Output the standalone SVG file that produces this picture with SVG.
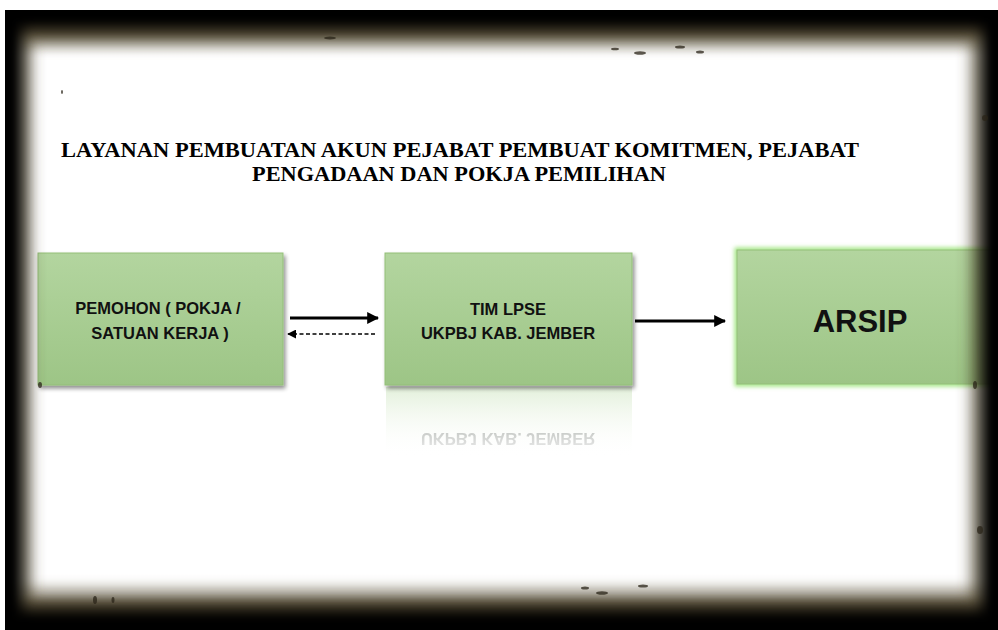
<svg xmlns="http://www.w3.org/2000/svg" width="998" height="630" viewBox="0 0 998 630">
<defs>
<style>
.title{font-family:"Liberation Serif","Times New Roman",serif;font-weight:bold;font-size:21px;fill:#000;text-anchor:middle}
.lbl{font-family:"Liberation Sans",Arial,sans-serif;font-weight:bold;font-size:16.5px;fill:#111;text-anchor:middle}
.big{font-family:"Liberation Sans",Arial,sans-serif;font-weight:bold;font-size:31px;fill:#111;text-anchor:middle}
.box{fill:url(#gfill);stroke:#93bf78;stroke-width:1}
.conn{stroke:#000;fill:none}
</style>
<linearGradient id="gfill" x1="0" y1="0" x2="0" y2="1">
<stop offset="0" stop-color="#b3d59f"/>
<stop offset="1" stop-color="#9dc586"/>
</linearGradient>
<linearGradient id="refl" x1="0" y1="0" x2="0" y2="1">
<stop offset="0" stop-color="#dfeed6" stop-opacity="0.9"/>
<stop offset="1" stop-color="#ffffff" stop-opacity="0"/>
</linearGradient>
<linearGradient id="refltxt" x1="0" y1="0" x2="0" y2="1">
<stop offset="0" stop-color="#e2e2e2"/>
<stop offset="1" stop-color="#bcc0bc"/>
</linearGradient>
<linearGradient id="topBand" x1="0" y1="0" x2="0" y2="1">
<stop offset="0" stop-color="#1a140a" stop-opacity="1"/>
<stop offset="0.45" stop-color="#4a3f28" stop-opacity="0.8"/>
<stop offset="0.8" stop-color="#8a8470" stop-opacity="0.3"/>
<stop offset="1" stop-color="#ffffff" stop-opacity="0"/>
</linearGradient>
<linearGradient id="botBand" x1="0" y1="1" x2="0" y2="0">
<stop offset="0" stop-color="#1a140a" stop-opacity="1"/>
<stop offset="0.45" stop-color="#4a3f28" stop-opacity="0.8"/>
<stop offset="0.8" stop-color="#8a8470" stop-opacity="0.3"/>
<stop offset="1" stop-color="#ffffff" stop-opacity="0"/>
</linearGradient>
<filter id="shadow" x="-10%" y="-10%" width="125%" height="130%">
<feGaussianBlur in="SourceAlpha" stdDeviation="2"/>
<feOffset dx="2" dy="3" result="b"/>
<feComponentTransfer><feFuncA type="linear" slope="0.45"/></feComponentTransfer>
<feMerge><feMergeNode/><feMergeNode in="SourceGraphic"/></feMerge>
</filter>
<filter id="glow" x="-10%" y="-10%" width="120%" height="120%">
<feGaussianBlur stdDeviation="2"/>
</filter>
<filter id="blurF" x="-5%" y="-5%" width="110%" height="110%">
<feGaussianBlur stdDeviation="7"/>
</filter>
<filter id="blurS" x="-5%" y="-5%" width="110%" height="110%">
<feGaussianBlur stdDeviation="3"/>
</filter>
<clipPath id="frameClip"><rect x="5" y="10" width="993" height="620"/></clipPath>
<marker id="ah" viewBox="0 0 10 10" refX="9" refY="5" markerWidth="4" markerHeight="4" orient="auto">
<path d="M0,0 L10,5 L0,10 z" fill="#000"/>
</marker>
<marker id="ahs" viewBox="0 0 10 10" refX="9" refY="5" markerWidth="6" markerHeight="6" orient="auto">
<path d="M0,0 L10,5 L0,10 z" fill="#000"/>
</marker>
</defs>

<rect x="0" y="0" width="998" height="630" fill="#fff"/>

<g id="title">
<text class="title" x="460" y="157" textLength="798" lengthAdjust="spacingAndGlyphs">LAYANAN PEMBUATAN AKUN PEJABAT PEMBUAT KOMITMEN, PEJABAT</text>
<text class="title" x="459" y="181" textLength="414" lengthAdjust="spacingAndGlyphs">PENGADAAN DAN POKJA PEMILIHAN</text>
</g>

<g id="node-pemohon">
<rect class="box" x="38" y="253" width="245" height="132" filter="url(#shadow)"/>
<text class="lbl" x="158" y="314">PEMOHON ( POKJA /</text>
<text class="lbl" x="160" y="339">SATUAN KERJA )</text>
</g>

<g id="node-lpse">
<rect x="386" y="387" width="246" height="70" fill="url(#refl)"/>
<text x="508" y="-433" transform="scale(1,-1)" font-family="Liberation Sans,Arial,sans-serif" font-weight="bold" font-size="16.5" fill="url(#refltxt)" text-anchor="middle" opacity="0.85">UKPBJ KAB. JEMBER</text>
<rect class="box" x="385" y="253" width="247" height="132" filter="url(#shadow)"/>
<text class="lbl" x="508" y="315">TIM LPSE</text>
<text class="lbl" x="508" y="339">UKPBJ KAB. JEMBER</text>
</g>

<g id="node-arsip">
<rect x="737" y="250" width="260" height="134" fill="none" stroke="#9fe57f" stroke-width="5" filter="url(#glow)"/>
<rect class="box" x="737" y="250" width="260" height="134" stroke="#a8dc8c" stroke-width="2"/>
<text class="big" x="860" y="332">ARSIP</text>
</g>

<g id="connectors">
<line class="conn" x1="290" y1="318" x2="378" y2="318" stroke-width="3" marker-end="url(#ah)"/>
<line class="conn" x1="375" y1="334" x2="288" y2="334" stroke-width="1.5" stroke-dasharray="4,2.5" marker-end="url(#ahs)"/>
<line class="conn" x1="635" y1="321" x2="725" y2="321" stroke-width="3" marker-end="url(#ah)"/>
</g>

<g id="frame" clip-path="url(#frameClip)">
<rect x="0" y="14" width="998" height="44" fill="url(#topBand)" filter="url(#blurS)"/>
<rect x="0" y="576" width="998" height="50" fill="url(#botBand)" filter="url(#blurS)"/>
<path fill="#4a3f28" fill-rule="evenodd" opacity="0.6" filter="url(#blurF)" d="M-40,-40 H1040 V670 H-40 Z M32,40 H970 V600 H32 Z"/>
<path fill="#000" fill-rule="evenodd" filter="url(#blurF)" d="M-40,-40 H1040 V670 H-40 Z M22,28 H982 V610 H22 Z"/>
<path fill="#000" fill-rule="evenodd" d="M-40,-40 H1040 V670 H-40 Z M12,18 H992 V622 H12 Z" filter="url(#blurS)"/>
<g fill="#2a2418" opacity="0.75">
<ellipse cx="330" cy="38" rx="6" ry="1.5"/>
<ellipse cx="640" cy="53" rx="6" ry="1.8"/>
<ellipse cx="680" cy="47" rx="5" ry="1.5"/>
<ellipse cx="700" cy="52" rx="4" ry="1.5"/>
<ellipse cx="615" cy="49" rx="4" ry="1.3"/>
<ellipse cx="602" cy="593" rx="6" ry="1.8"/>
<ellipse cx="585" cy="588" rx="4" ry="1.5"/>
<ellipse cx="643" cy="586" rx="5" ry="1.5"/>
<ellipse cx="95" cy="600" rx="2" ry="4"/>
<ellipse cx="113" cy="600" rx="1.5" ry="3"/>
<ellipse cx="985" cy="118" rx="3" ry="3"/>
<ellipse cx="980" cy="530" rx="3" ry="4"/>
<ellipse cx="40" cy="385" rx="2" ry="3"/>
<ellipse cx="975" cy="385" rx="2" ry="4"/>
<ellipse cx="62" cy="92" rx="1" ry="2"/>
</g>
</g>
</svg>
